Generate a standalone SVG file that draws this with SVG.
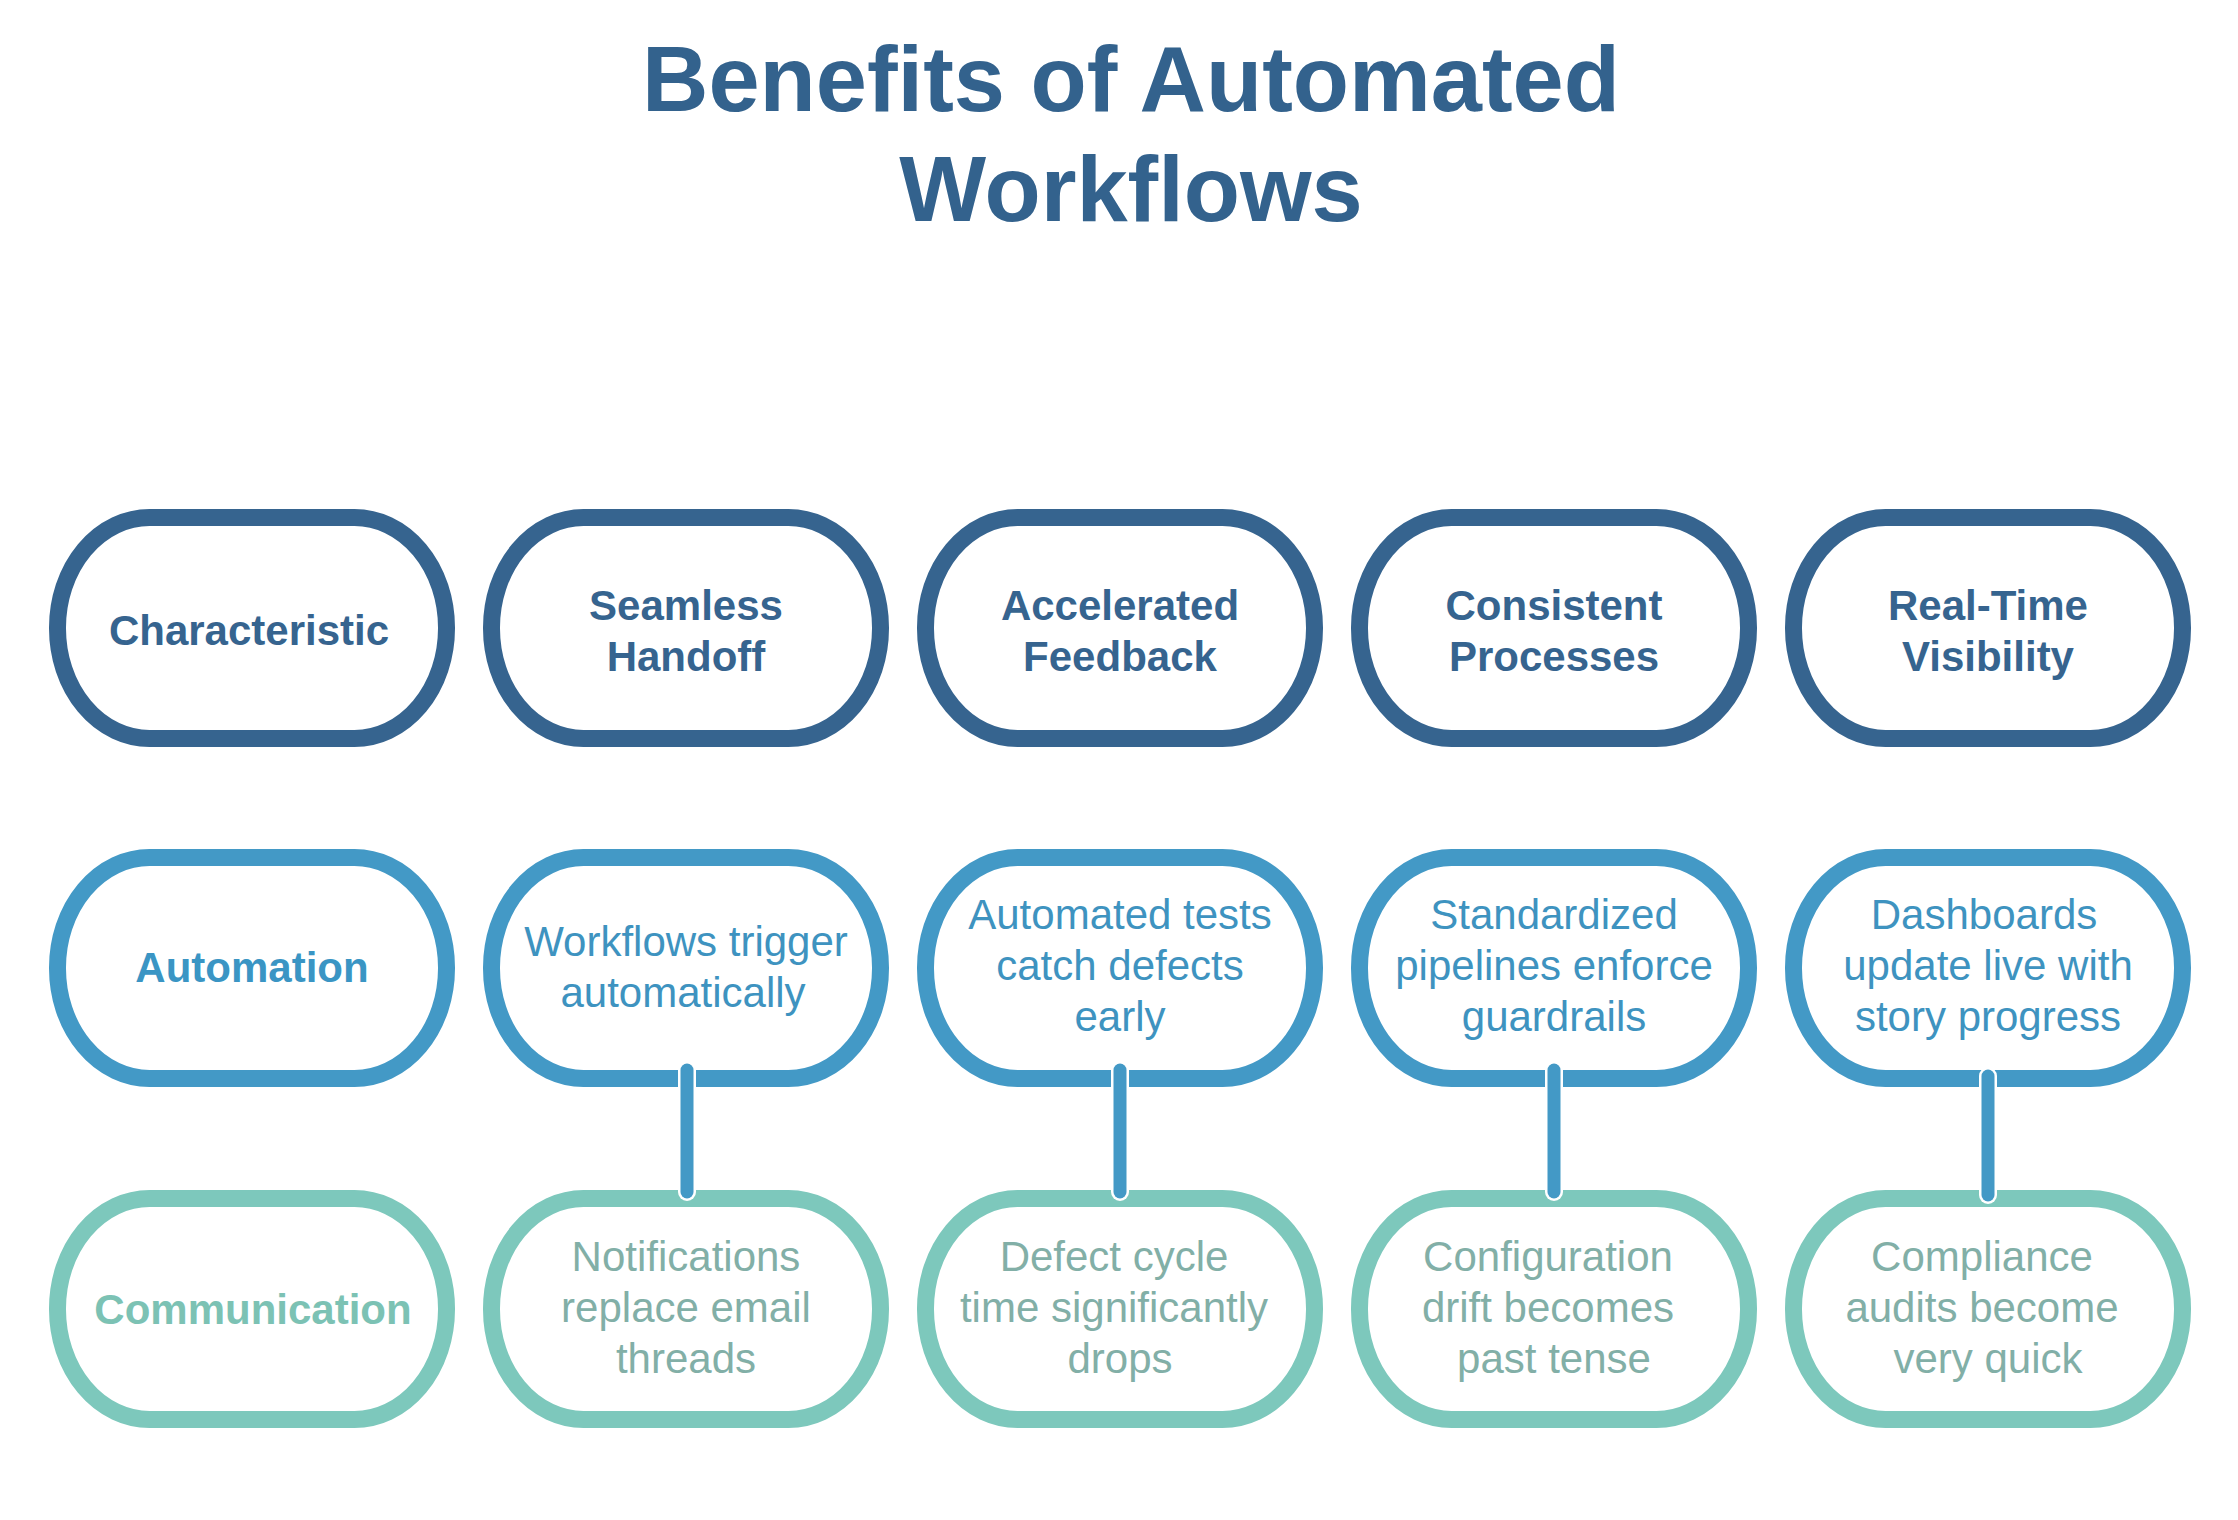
<svg xmlns="http://www.w3.org/2000/svg" width="2238" height="1520" viewBox="0 0 2238 1520">
<style>
.n rect{fill:#ffffff;stroke-width:17}
.r1 rect{stroke:#36648F}
.r2 rect{stroke:#4399C6}
.r3 rect{stroke:#7DC8BC}
text{font-family:"Liberation Sans",Arial,sans-serif;text-anchor:middle;font-size:42px}
.title{font-size:92px;font-weight:bold;fill:#33628D}
.h1{fill:#36648F;font-weight:bold}
.h2{fill:#3A95C4;font-weight:bold}
.h3{fill:#7CC2B4;font-weight:bold}
.b2{fill:#3E93C0}
.b3{fill:#82AFA7}
</style>
<rect width="2238" height="1520" fill="#ffffff"/>
<g id="title">
<text class="title" x="1131" y="111">Benefits of Automated</text>
<text class="title" x="1131" y="221">Workflows</text>
</g>
<g id="n-characteristic" class="n r1"><rect x="57.5" y="517.5" width="389" height="221" rx="92" ry="110"/><text class="h1" x="249" y="645">Characteristic</text></g>
<g id="n-seamless" class="n r1"><rect x="491.5" y="517.5" width="389" height="221" rx="92" ry="110"/><text class="h1" x="686" y="620">Seamless</text><text class="h1" x="686" y="671">Handoff</text></g>
<g id="n-accelerated" class="n r1"><rect x="925.5" y="517.5" width="389" height="221" rx="92" ry="110"/><text class="h1" x="1120" y="620">Accelerated</text><text class="h1" x="1120" y="671">Feedback</text></g>
<g id="n-consistent" class="n r1"><rect x="1359.5" y="517.5" width="389" height="221" rx="92" ry="110"/><text class="h1" x="1554" y="620">Consistent</text><text class="h1" x="1554" y="671">Processes</text></g>
<g id="n-realtime" class="n r1"><rect x="1793.5" y="517.5" width="389" height="221" rx="92" ry="110"/><text class="h1" x="1988" y="620">Real-Time</text><text class="h1" x="1988" y="671">Visibility</text></g>

<g id="n-automation" class="n r2"><rect x="57.5" y="857.5" width="389" height="221" rx="92" ry="110"/><text class="h2" x="252" y="982">Automation</text></g>
<g id="n-a2" class="n r2"><rect x="491.5" y="857.5" width="389" height="221" rx="92" ry="110"/><text class="b2" x="686" y="956">Workflows trigger</text><text class="b2" x="683" y="1007">automatically</text></g>
<g id="n-a3" class="n r2"><rect x="925.5" y="857.5" width="389" height="221" rx="92" ry="110"/><text class="b2" x="1120" y="929">Automated tests</text><text class="b2" x="1120" y="980">catch defects</text><text class="b2" x="1120" y="1031">early</text></g>
<g id="n-a4" class="n r2"><rect x="1359.5" y="857.5" width="389" height="221" rx="92" ry="110"/><text class="b2" x="1554" y="929">Standardized</text><text class="b2" x="1554" y="980">pipelines enforce</text><text class="b2" x="1554" y="1031">guardrails</text></g>
<g id="n-a5" class="n r2"><rect x="1793.5" y="857.5" width="389" height="221" rx="92" ry="110"/><text class="b2" x="1984" y="929">Dashboards</text><text class="b2" x="1988" y="980">update live with</text><text class="b2" x="1988" y="1031">story progress</text></g>

<g id="n-communication" class="n r3"><rect x="57.5" y="1198.5" width="389" height="221" rx="92" ry="110"/><text class="h3" x="253" y="1324">Communication</text></g>
<g id="n-c2" class="n r3"><rect x="491.5" y="1198.5" width="389" height="221" rx="92" ry="110"/><text class="b3" x="686" y="1271">Notifications</text><text class="b3" x="686" y="1322">replace email</text><text class="b3" x="686" y="1373">threads</text></g>
<g id="n-c3" class="n r3"><rect x="925.5" y="1198.5" width="389" height="221" rx="92" ry="110"/><text class="b3" x="1114" y="1271">Defect cycle</text><text class="b3" x="1114" y="1322">time significantly</text><text class="b3" x="1120" y="1373">drops</text></g>
<g id="n-c4" class="n r3"><rect x="1359.5" y="1198.5" width="389" height="221" rx="92" ry="110"/><text class="b3" x="1548" y="1271">Configuration</text><text class="b3" x="1548" y="1322">drift becomes</text><text class="b3" x="1554" y="1373">past tense</text></g>
<g id="n-c5" class="n r3"><rect x="1793.5" y="1198.5" width="389" height="221" rx="92" ry="110"/><text class="b3" x="1982" y="1271">Compliance</text><text class="b3" x="1982" y="1322">audits become</text><text class="b3" x="1988" y="1373">very quick</text></g>

<g id="connectors">
<g stroke="#ffffff" stroke-width="18" stroke-linecap="round">
<line x1="687" y1="1070" x2="687" y2="1192"/>
<line x1="1120" y1="1070" x2="1120" y2="1192"/>
<line x1="1554" y1="1070" x2="1554" y2="1192"/>
<line x1="1988" y1="1076" x2="1988" y2="1195"/>
</g>
<g stroke="#4399C6" stroke-width="13" stroke-linecap="round">
<line x1="687" y1="1070" x2="687" y2="1192"/>
<line x1="1120" y1="1070" x2="1120" y2="1192"/>
<line x1="1554" y1="1070" x2="1554" y2="1192"/>
<line x1="1988" y1="1076" x2="1988" y2="1195"/>
</g>
</g>
</svg>
